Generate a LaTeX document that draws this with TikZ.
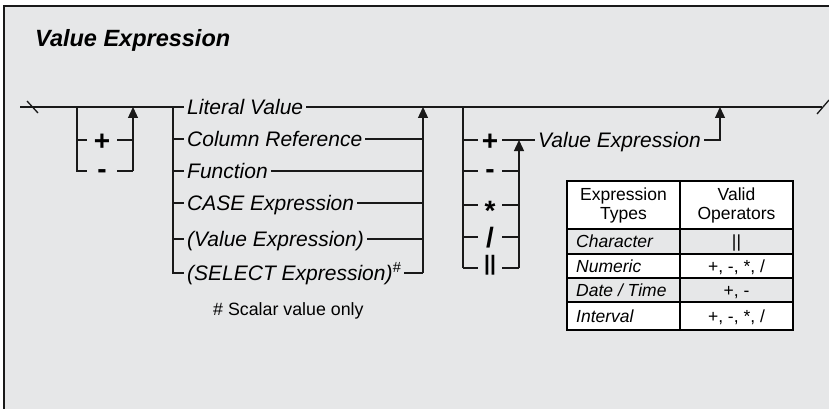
\documentclass[tikz,border=0pt]{standalone}
\usepackage{fontspec}
\setmainfont{Liberation Sans}
\usetikzlibrary{arrows.meta}
\definecolor{cPanel}{RGB}{230,231,232}
\definecolor{cInk}{RGB}{25,25,25}
\tikzset{
	rail/.style     ={line width=1.3pt, cInk},
	railarrow/.style={rail, -{Triangle[length=11pt, width=10pt]}},
	altlabel/.style ={anchor=west, font=\itshape\fontsize{21}{25}\selectfont, inner xsep=3pt, inner ysep=0pt, text height=15pt, text depth=0pt},
	opsym/.style    ={anchor=base, font=\bfseries\fontsize{28}{32}\selectfont, minimum width=24pt, inner sep=0pt},
	% table styles
	cell/.style     ={font=\fontsize{17.5}{19.5}\selectfont, inner sep=0pt, text height=12.5pt, text depth=0pt},
	headcell/.style ={font=\fontsize{17.5}{19}\selectfont, inner sep=0pt, align=center},
}

\begin{document}
\begin{tikzpicture}[x=1pt, y=-1pt]
	\useasboundingbox (0,0) rectangle (829,409);
	% panel
	\fill[cPanel] (4,6) rectangle (829,409);
	\draw[cInk, line width=2pt] (4,409) -- (4,6) -- (829,6);
	\node[anchor=base west, inner sep=0pt, font=\bfseries\itshape\fontsize{23.5}{28}\selectfont] (title) at (35,47) {Value Expression};

	% junction points on the main rail
	\coordinate (start) at (20,107);
	\coordinate (sgnL) at (77,107);
	\coordinate (sgnR) at (133,107);
	\coordinate (altL) at (173,107);
	\coordinate (altR) at (423,107);
	\coordinate (opL) at (463,107);
	\coordinate (opR) at (519,140);
	\coordinate (vexR) at (720,107);
	\coordinate (finish) at (822,107);

	% primary alternatives
	\foreach \y/\t [count=\i] in {107/Literal Value, 139/Column Reference, 171/Function, 203/CASE Expression, 239/{(Value Expression)}, 273/{(SELECT Expression)\textsuperscript{\#}}}
		\node[altlabel] (alt\i) at (184,\y) {\t};
	\node[altlabel] (vexp) at (535,140) {Value Expression};

	% main rail with end ticks
	\draw[rail] (start) -- (alt1.west);
	\draw[rail] (alt1.east) -- (finish);
	\draw[rail] (27,101) -- (38,113);
	\draw[rail] (817,114) -- (829,100);

	% optional sign
	\coordinate (s1) at (77,140);
	\coordinate (s2) at (77,171);
	\node[opsym, minimum width=30pt] (plus) at (102,150) {+};
	\node[opsym, minimum width=30pt] (minus) at (102,178.5) {-};
	\draw[rail] (sgnL) -- (s2) -- (s2 -| minus.west);
	\draw[rail] (s2 -| minus.east) -- (s2 -| sgnR);
	\draw[rail] (s1) -- (s1 -| plus.west);
	\draw[rail] (s1 -| plus.east) -- (s1 -| sgnR);
	\draw[railarrow] (s2 -| sgnR) -- (sgnR);

	% alternative branches
	\draw[rail] (altL) |- (alt6.west);
	\foreach \i in {2,...,5}
		\draw[rail] (alt\i.west -| altL) -- (alt\i.west);
	\foreach \i in {2,...,6}
		\draw[rail] (alt\i.east) -- (alt\i.east -| altR);
	\draw[railarrow] (alt6.east -| altR) -- (altR);

	% operators
	\foreach \y/\s/\d [count=\i] in {140/+/10, 171/-/7.5, 205/*/15, 237/{/}/10, 268/{\fontsize{21}{25}\selectfont||}/2.5} {
		\coordinate (r\i) at (463,\y);
		\node[opsym] (op\i) at (490,\y+\d) {\s};
		\draw[rail] (r\i) -- (r\i -| op\i.west);
	}
	\draw[rail] (opL) -- (r5);
	\foreach \i in {2,...,5}
		\draw[rail] (r\i -| op\i.east) -- (r\i -| opR);
	\draw[rail] (r1 -| op1.east) -- (vexp.west);
	\draw[railarrow] (r5 -| opR) -- (opR);
	\draw[railarrow] (vexp.east) -| (vexR);

	\node[anchor=base west, inner sep=0pt, font=\fontsize{17.8}{21}\selectfont] (note) at (213,315) {\# Scalar value only};

	% operator table
	\foreach \ya/\yb/\c in {181/229/white, 229/254/cPanel, 254/278/white, 278/302/cPanel, 302/330/white}
		\fill[\c] (567,\ya) rectangle (793,\yb);
	\foreach \y in {254,278,302}
		\draw[line width=1.2pt] (567,\y) -- (793,\y);
	\draw[line width=1.5pt] (567,229) -- (793,229);
	\draw[line width=1.2pt] (680,181) -- (680,330);
	\draw[line width=1.7pt] (567,181) rectangle (793,330);
	\node[headcell] (hdType) at (623.5,205) {Expression\\Types};
	\node[headcell] (hdOps) at (736.5,205) {Valid\\Operators};
	\foreach \y/\a/\b [count=\i] in {241.5/Character/||, 266/Numeric/{+, -, *, /}, 290/{Date / Time}/{+, -}, 316/Interval/{+, -, *, /}} {
		\node[cell, anchor=west, font=\itshape\fontsize{17.5}{19.5}\selectfont] (ty\i) at (576,\y) {\a};
		\node[cell] (vo\i) at (736.5,\y) {\b};
	}
\end{tikzpicture}
\end{document}
